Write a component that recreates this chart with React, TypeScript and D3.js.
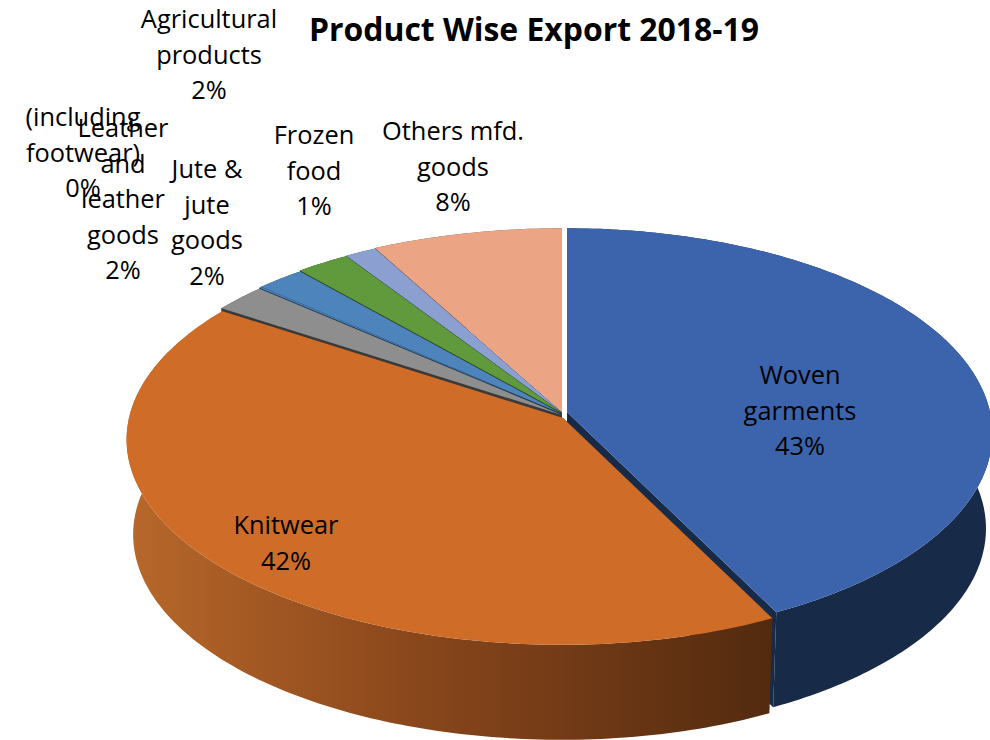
import React from "react";
import * as d3 from "d3";

const categories = [
  "Woven garments",
  "Knitwear",
  "Agricultural products",
  "Leather (including footwear)",
  "Leather and leather goods",
  "Jute & jute goods",
  "Frozen food",
  "Others mfd. goods",
];
const shares = [42.6, 41.8, 2.2, 0.1, 2.0, 2.2, 1.3, 7.8];

const topColors = ["#3B64AD", "#CE6C28", "#8E8E8E", "#4C84BB", "#4C84BB", "#619A3D", "#8C9FD1", "#EBA585"];
const wallColors = ["#172A47", "#532A0E", "#3A3A3A", "#1F3A55", "#1F3A55", "#2A441A", "#3D4A6A", "#6E4A38"];

// wrapped label text, as the chart breaks it
const labelLines = [
  ["Woven", "garments"],
  ["Knitwear"],
  ["Agricultural", "products"],
  ["(including", "footwear)"],
  ["Leather", "and", "leather", "goods"],
  ["Jute &", "jute", "goods"],
  ["Frozen", "food"],
  ["Others mfd.", "goods"],
];
const labelCentres = [
  [800, 374],
  [286, 524],
  [209, 18],
  [83, 116],
  [123, 127],
  [207, 168],
  [314, 134],
  [453, 130],
];
const sliceOffsets = [
  [4, -6],
  [0, 0],
  [-1, -3],
  [-1, -4],
  [-1, -4],
  [-1, -5],
  [-1, -5.5],
  [-1, -6],
];

const width = 990;
const height = 740;
const cx = 563;
const cy = 418;
const rxLeft = 434;
const rxRight = 423;
const ry = 203;
const tilt = 0.105;
const depth = 95;
const bottomShrink = 0.985;
const lineHeight = 35.5;
const font = "'Open Sans', sans-serif";

// circle to perspective ellipse, the left half reaches a little further out
const project = (angle: number): [number, number] => {
  const u = Math.sin(angle);
  const v = -Math.cos(angle);
  const w = 1 - tilt * v;
  return [((u < 0 ? rxLeft : rxRight) * u) / w, (ry * v) / w];
};

const pieAngles = d3.pie<number>().sort(null)(shares);
const line = d3.line();
const wallShade = d3
  .scaleLinear<string>()
  .domain([0, 0.42, 1])
  .range(["#B8682A", "#8C481C", "#522A0F"]);

const App: React.FC = () => {
  const slices = pieAngles.map((d, i) => {
    const steps = Math.max(2, Math.ceil((d.endAngle - d.startAngle) * 60));
    const arc = d3
      .range(steps + 1)
      .map((s) => project(d.startAngle + ((d.endAngle - d.startAngle) * s) / steps));
    const [dx, dy] = sliceOffsets[i];
    const lower = (p: [number, number]): [number, number] => [p[0] * bottomShrink, p[1] + depth];
    const apex: [number, number] = [0, 0];
    const top = line([apex, ...arc]) + "Z";
    const wall = line([...arc, ...arc.map(lower).reverse()]) + "Z";
    const cutA = line([apex, arc[0], lower(arc[0]), lower(apex)]) + "Z";
    const cutB = line([apex, arc[steps], lower(arc[steps]), lower(apex)]) + "Z";
    return { i, top, wall, cutA, cutB, dx, dy };
  });

  // back slices first, the front two last
  const drawOrder = [7, 6, 5, 4, 3, 2, 0, 1].map((i) => slices[i]);

  return (
    <svg
      width={width}
      height={height}
      style={{ position: "absolute", left: 0, top: 0, background: "#fff" }}
    >
      <defs>
        <linearGradient
          id="knitWall"
          gradientUnits="userSpaceOnUse"
          x1={127 - cx}
          x2={775 - cx}
          y1={0}
          y2={0}
        >
          {[0, 0.42, 1].map((t) => (
            <stop key={t} offset={t} stopColor={wallShade(t)} />
          ))}
        </linearGradient>
      </defs>
      <g transform={`translate(${cx},${cy})`}>
        {drawOrder.map((s) => {
          const wallFill = s.i === 1 ? "url(#knitWall)" : wallColors[s.i];
          return (
            <g key={s.i} transform={`translate(${s.dx},${s.dy})`}>
              <path d={s.cutA} fill={wallColors[s.i]} />
              <path d={s.cutB} fill={wallColors[s.i]} />
              <path d={s.wall} fill={wallFill} />
              <path d={s.top} fill={topColors[s.i]} />
            </g>
          );
        })}
      </g>
      <text
        x={534}
        y={28}
        textAnchor="middle"
        dominantBaseline="central"
        fontFamily={font}
        fontWeight={700}
        fontSize={31.9}
        fill="#000"
      >
        Product Wise Export 2018-19
      </text>
      {categories.map((name, i) => {
        const lines = [...labelLines[i], d3.format(".0%")(shares[i] / d3.sum(shares))];
        const [x, y] = labelCentres[i];
        return (
          <text
            key={name}
            textAnchor="middle"
            fontFamily={font}
            fontSize={25.4}
            fill="#000"
            dominantBaseline="central"
          >
            {lines.map((t, j) => (
              <tspan key={j} x={x} y={y + j * lineHeight}>
                {t}
              </tspan>
            ))}
          </text>
        );
      })}
    </svg>
  );
};

export default App;
